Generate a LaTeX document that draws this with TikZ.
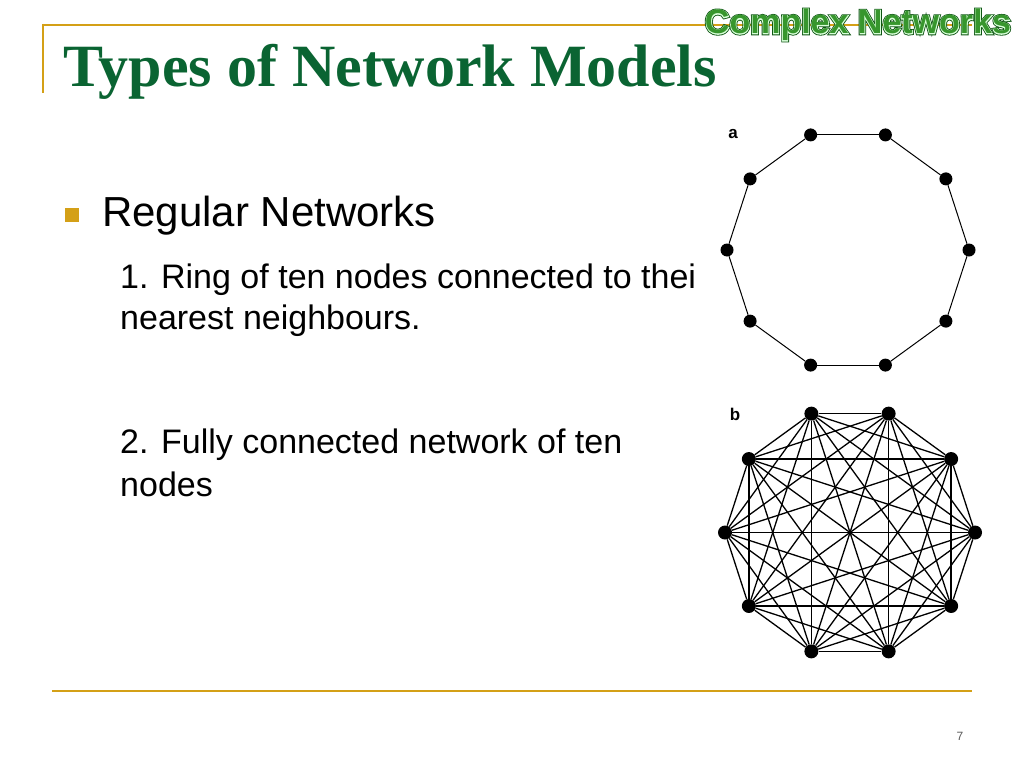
\documentclass[tikz,border=0pt]{standalone}
\usepackage{fontspec}
\setmainfont{Liberation Sans}
\newfontfamily\titlefont{Liberation Serif}
\newfontfamily\logoouter[FakeBold=9]{Liberation Sans Bold}
\newfontfamily\logoinner[FakeBold=4]{Liberation Sans Bold}
\newfontfamily\logocore{Liberation Sans Bold}
\definecolor{gold}{RGB}{212,160,23}
\definecolor{titlegreen}{RGB}{10,100,50}
\definecolor{logodark}{RGB}{15,85,20}
\definecolor{logogreen}{RGB}{55,150,45}
\definecolor{pagegray}{RGB}{90,90,90}
\begin{document}
\begin{tikzpicture}[x=1pt,y=-1pt,
  rule/.style={gold, line width=2.2pt},
  bodytext/.style={anchor=base west, inner sep=0pt, text=black},
  dotA/.style={circle, fill=black, inner sep=0pt, minimum size=13pt},
  dotB/.style={circle, fill=black, inner sep=0pt, minimum size=14pt},
  ringedge/.style={black, line width=1.0pt},
  fulledge/.style={black, line width=1.3pt},
  panellabel/.style={inner sep=0pt, font=\bfseries\fontsize{17}{17}\selectfont},
  logosize/.style={inner sep=0pt}
]
\useasboundingbox (0,0) rectangle (1024,768);
\fill[white] (0,0) rectangle (1024,768);

% frame rules
\coordinate (tl) at (42,25);
\coordinate (tr) at (972,25);
\coordinate (vb) at (43,93);
\coordinate (vt) at (43,24);
\coordinate (bl) at (52,691);
\coordinate (br) at (972,691);
\draw[rule] (tl) -- (tr);
\draw[rule] (vt) -- (vb);
\draw[rule] (bl) -- (br);

% logo
\node[logosize, text=logodark, font=\logoouter\fontsize{34}{34}\selectfont] (logoo) at (858,25) {Complex Networks};
\node[logosize, text=white!85!green, font=\logoinner\fontsize{34}{34}\selectfont] (logow) at (858,25) {Complex Networks};
\node[logosize, text=logogreen, font=\logocore\fontsize{34}{34}\selectfont] (logo) at (858,25) {Complex Networks};

% title
\node[anchor=base west, inner sep=0pt, text=titlegreen,
      font=\titlefont\bfseries\fontsize{60}{62}\selectfont] (title) at (63,86) {Types of Network Models};

% bullet and texts
\node[fill=gold, inner sep=0pt, minimum size=14pt] (bullet) at (72,215) {};
\node[bodytext, font=\fontsize{42}{48}\selectfont] (reg) at (102,226) {Regular Networks};
\node[bodytext, font=\fontsize{34}{40}\selectfont] (l1) at (120,288) {1. Ring of ten nodes connected to thei};
\node[bodytext, font=\fontsize{34}{40}\selectfont] (l2) at (120,329) {nearest neighbours.};
\node[bodytext, font=\fontsize{34}{40}\selectfont] (l3) at (120,453) {2. Fully connected network of ten};
\node[bodytext, font=\fontsize{34}{40}\selectfont] (l4) at (120,496) {nodes};

% page number
\node[inner sep=0pt, text=pagegray, font=\fontsize{12}{12}\selectfont] (pnum) at (960,736) {7};

% panel a: ring
\node[panellabel] (la) at (733,134) {a};
\foreach \i in {0,...,9}{
  \node[dotA] (a\i) at ({848+121*cos(36*\i)},{250-121*sin(36*\i)}) {};
}
\foreach \i in {0,...,9}{
  \pgfmathtruncatemacro\nxt{mod(\i+1,10)}
  \draw[ringedge] (a\i) -- (a\nxt);
}

% panel b: complete graph
\node[panellabel] (lb) at (735,414) {b};
\foreach \i in {0,...,9}{
  \node[dotB] (b\i) at ({850+125*cos(36*\i)},{532.5-125*sin(36*\i)}) {};
}
\foreach \i in {0,...,8}{
  \pgfmathtruncatemacro\s{\i+1}
  \foreach \j in {\s,...,9}{
    \draw[fulledge] (b\i) -- (b\j);
  }
}
\end{tikzpicture}
\end{document}
